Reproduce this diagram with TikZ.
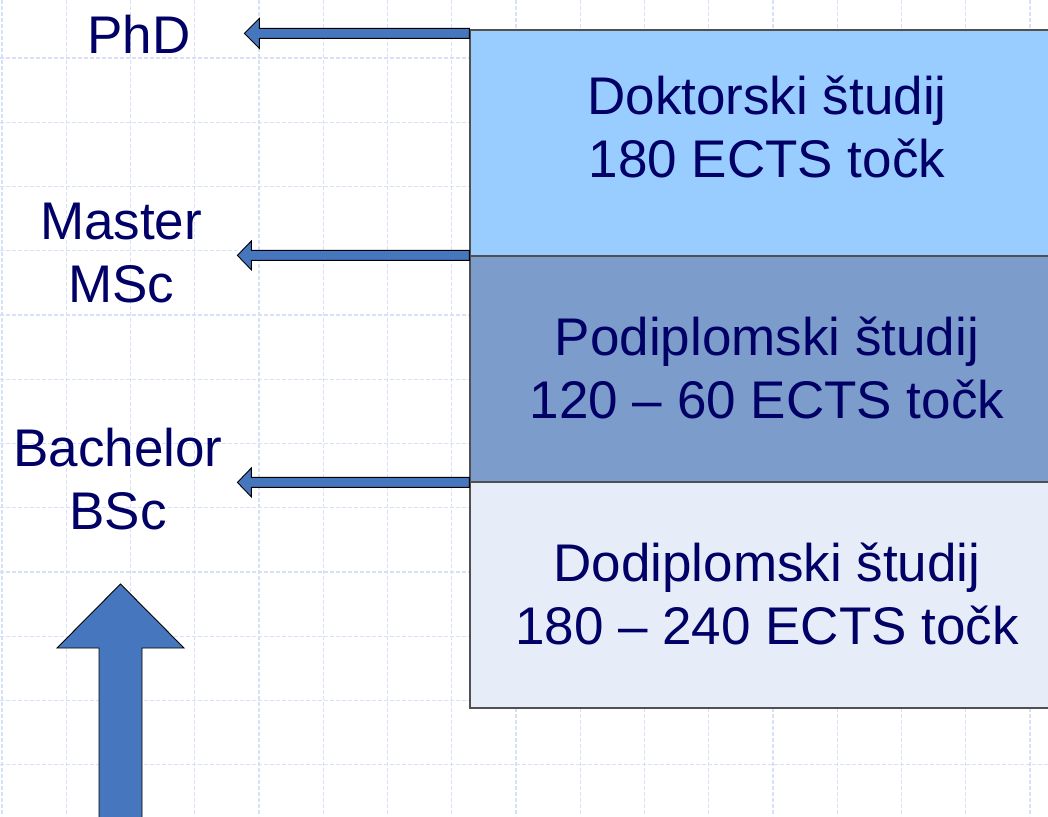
\documentclass[tikz,border=0pt]{standalone}
\usepackage{fontspec}
\setmainfont{Liberation Sans}
\definecolor{gridc}{RGB}{214,224,247}
\definecolor{navy}{RGB}{0,0,102}
\definecolor{docc}{RGB}{153,204,255}
\definecolor{podc}{RGB}{124,156,203}
\definecolor{dodc}{RGB}{230,237,248}
\definecolor{arrc}{RGB}{70,119,190}
\definecolor{edgec}{RGB}{80,80,80}
\tikzset{
  gridline/.style={draw=gridc, line width=1.2pt, dash pattern=on 4pt off 2pt},
  studybox/.style={draw=edgec, line width=1.2pt, minimum width=594pt, minimum height=226pt, inner sep=0pt},
  bigtext/.style={text=navy, font=\fontsize{53}{63}\selectfont, align=center, inner sep=0pt},
  blockarrow/.style={fill=arrc, draw=black, line width=0.9pt, line join=miter},
}
\begin{document}
\begin{tikzpicture}[x=1pt,y=-1pt]
\clip (0,0) rectangle (1048,816);
\fill[white] (0,0) rectangle (1048,816);
% grid
\foreach \i in {0,...,16} \draw[gridline] ({2+64.25*\i},0) -- ({2+64.25*\i},816);
\foreach \j in {0,...,13} \draw[gridline] (0,{-6.25+64.25*\j}) -- (1048,{-6.25+64.25*\j});
% boxes
\node[studybox, fill=docc] (doc) at (767,143) {};
\node[studybox, fill=podc] (pod) at (767,369) {};
\node[studybox, fill=dodc] (dod) at (767,595) {};
\node[bigtext] (doct) at (767,127) {Doktorski študij\\180 ECTS točk};
\node[bigtext] (podt) at (767,368) {Podiplomski študij\\120 – 60 ECTS točk};
\node[bigtext] (dodt) at (767,594) {Dodiplomski študij\\180 – 240 ECTS točk};
% labels
\node[bigtext, anchor=base] (phd) at (139,53) {PhD};
\node[bigtext] (msc) at (121,253) {Master\\MSc};
\node[bigtext] (bsc) at (118,479) {Bachelor\\BSc};
% small arrows
\draw[blockarrow] (doc.north west) ++(0,-1) -- ++(-210,0) -- ++(0,-10) -- ++(-15,15) -- ++(15,15) -- ++(0,-10) -- ++(210,0) -- cycle;
\draw[blockarrow] (pod.north west) ++(0,-5) -- ++(-218,0) -- ++(0,-9.5) -- ++(-14,14.5) -- ++(14,14.5) -- ++(0,-9.5) -- ++(218,0) -- cycle;
\draw[blockarrow] (dod.north west) ++(0,-4) -- ++(-218,0) -- ++(0,-9.5) -- ++(-14,14.5) -- ++(14,14.5) -- ++(0,-9.5) -- ++(218,0) -- cycle;
% big up arrow
\coordinate (up) at (120.5,584);
\draw[blockarrow] (99,830) -- (99,648) -- (57,648) -- (up) -- (184,648) -- (142,648) -- (142,830) -- cycle;
\end{tikzpicture}
\end{document}
